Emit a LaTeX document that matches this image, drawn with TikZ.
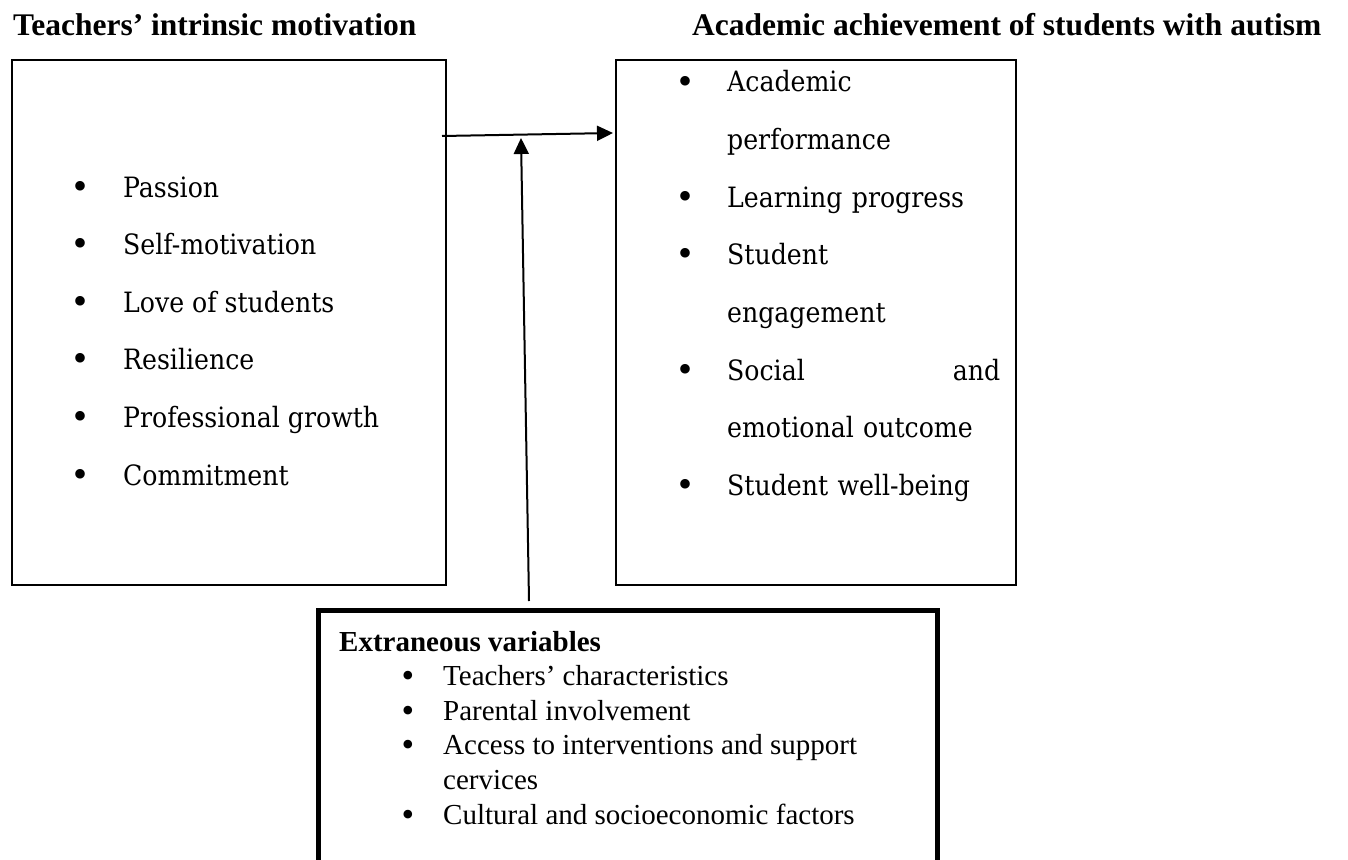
\documentclass[tikz,border=0pt]{standalone}
\usepackage{fontspec}
\setmainfont{Liberation Serif}
\newfontfamily\itemfont{DejaVu Serif Condensed}
\usetikzlibrary{positioning,arrows.meta}

\tikzset{
	frame/.style = {
		x = 1pt,
		y = -1pt,
		arrow/.style = {
			draw,
			line width = 2pt,
			-{Triangle[length = 16pt, width = 15pt]},
		}
	},
	box/.style = {
		draw = black,
		line width = 2.2pt,
		anchor = north west,
		inner sep = 0pt
	},
	heavybox/.style = {
		box,
		line width = 5pt
	},
	heading/.style = {
		anchor = base west,
		font = \fontsize{31.5}{36}\selectfont\bfseries,
		inner sep = 0pt
	},
	item/.style = {
		anchor = base west,
		font = \fontsize{28}{32}\selectfont\itemfont,
		inner sep = 0pt
	},
	dotmark/.style = {
		anchor = base,
		font = \fontsize{40}{40}\selectfont,
		inner sep = 0pt
	},
	note/.style = {
		anchor = base west,
		font = \fontsize{29}{34}\selectfont,
		inner sep = 0pt
	}
}

\begin{document}
\begin{tikzpicture}[frame]
	\useasboundingbox (0,0) rectangle (1348,859);

	% column headings
	\node[heading] (intr) at (13,36) {Teachers’ intrinsic motivation};
	\node[heading] (achv) at (692,36) {Academic achievement of students with autism};

	% the three boxes
	\node[box, minimum width = 434pt, minimum height = 525pt] (motiv) at (11,59) {};
	\node[box, minimum width = 400pt, minimum height = 525pt] (ach) at (615,59) {};
	\node[heavybox, minimum width = 619pt, minimum height = 300pt] (extra) at (316,608) {};

	\coordinate (src) at (442,136);
	\coordinate (dst) at (613,133);
	\coordinate (foot) at (529,601);
	\coordinate (join) at (521,138);

	% motivation
	\foreach \txt [count = \i from 0] in {Passion, Self-motivation, Love of students,
		Resilience, Professional growth, Commitment} {
		\node[dotmark] at (81,199 + 57.6*\i) {•};
		\node[item] at (123,197 + 57.6*\i) {\txt};
	}

	% achievement
	\foreach \txt [count = \i from 0] in {Academic, performance, Learning progress,
		Student, engagement, Social\hfill and, emotional outcome, Student well-being} {
		\node[item, text width = 273pt] at (727,92 + 57.6*\i) {\txt};
	}
	\foreach \i in {0,2,3,5,7} {
		\node[dotmark] at (685,94 + 57.6*\i) {•};
	}

	% extraneous variables
	\node[note, font = \fontsize{29}{34}\selectfont\bfseries] (ev) at (339,651) {Extraneous variables};
	\foreach \txt [count = \i from 1] in {Teachers’ characteristics, Parental involvement,
		Access to interventions and support, cervices, Cultural and socioeconomic factors} {
		\node[note] at (443,651 + 34.6*\i) {\txt};
	}
	\foreach \i in {1,2,3,5} {
		\node[dotmark, font = \fontsize{36}{36}\selectfont] at (408,653 + 34.6*\i) {•};
	}

	\begin{scope}[every path/.style = arrow]
		\path (src) to (dst);
		\path (foot) to (join);
	\end{scope}
\end{tikzpicture}
\end{document}
